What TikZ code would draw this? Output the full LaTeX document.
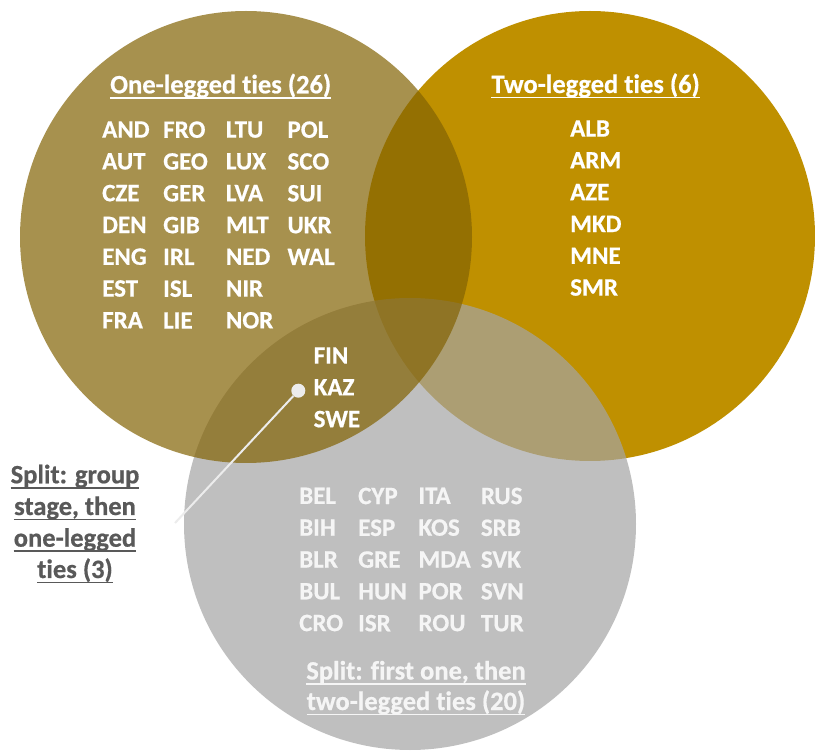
\documentclass[tikz,border=0pt]{standalone}
\usepackage{fontspec}
\setmainfont{Carlito}[Ligatures=NoCommon, BoldFeatures={FakeBold=0.6}]

\definecolor{onelegcol}{RGB}{131,99,4}
\definecolor{twolegcol}{RGB}{191,144,0}
\definecolor{splitcol}{RGB}{165,165,165}
\definecolor{labelgray}{RGB}{89,89,89}
\definecolor{softwhite}{RGB}{245,245,245}
\definecolor{dotcol}{RGB}{236,236,236}

\tikzset{
	venn/.style={circle, inner sep=0pt},
	ties/.style={font=\fontsize{25}{31.8}\selectfont\bfseries, text=white,
		inner sep=0pt, align=left, anchor=north west},
	heading/.style={font=\fontsize{26.5}{30}\selectfont\bfseries, text=white,
		inner sep=0pt, anchor=base},
	uline/.style={draw=white, line width=1.6pt},
}

\begin{document}
\begin{tikzpicture}[x=1pt, y=-1pt]
	\fill[white] (0,0) rectangle (815,751);
	\useasboundingbox (0,0) rectangle (815,751);

	% the three sets
	\node[venn, minimum size=450pt, fill=twolegcol] (twoleg) at (590,236) {};
	\node[venn, minimum size=452pt, fill=splitcol, fill opacity=0.7] (split) at (410,524) {};
	\node[venn, minimum size=452pt, fill=onelegcol, fill opacity=0.7] (oneleg) at (246,237) {};

	% headings
	\node[heading] (onetitle) at (220.7,93.3) {One-legged ties (26)};
	\node[heading] (twotitle) at (595.7,93) {Two-legged ties (6)};
	\draw[uline] ([yshift=-4.5pt]onetitle.base west) -- ([yshift=-4.5pt]onetitle.base east);
	\draw[uline] ([yshift=-4.5pt]twotitle.base west) -- ([yshift=-4.5pt]twotitle.base east);

	% one-legged
	\node[ties] (onecolA) at (102,121.2) {AND\\AUT\\CZE\\DEN\\ENG\\EST\\FRA};
	\node[ties] (onecolB) at (163,121.2) {FRO\\GEO\\GER\\GIB\\IRL\\ISL\\LIE};
	\node[ties] (onecolC) at (225.7,121.2) {LTU\\LUX\\LVA\\MLT\\NED\\NIR\\NOR};
	\node[ties] (onecolD) at (287.3,121.2) {POL\\SCO\\SUI\\UKR\\WAL};

	% two-legged
	\node[ties] (twocol) at (570,120.2) {ALB\\ARM\\AZE\\MKD\\MNE\\SMR};

	% group stage, then one-legged
	\node[ties] (bothcol) at (313.5,347.2) {FIN\\KAZ\\SWE};

	% first one, then two-legged
	\node[ties, text=softwhite] (splitcolA) at (299,487.5) {BEL\\BIH\\BLR\\BUL\\CRO};
	\node[ties, text=softwhite] (splitcolB) at (358,487.5) {CYP\\ESP\\GRE\\HUN\\ISR};
	\node[ties, text=softwhite] (splitcolC) at (418.3,487.5) {ITA\\KOS\\MDA\\POR\\ROU};
	\node[ties, text=softwhite] (splitcolD) at (480.7,487.5) {RUS\\SRB\\SVK\\SVN\\TUR};

	\node[heading, text=softwhite] (splittitleA) at (416,679.5) {Split: first one, then};
	\node[heading, text=softwhite] (splittitleB) at (416,710) {two-legged ties (20)};
	\draw[uline, draw=softwhite] ([yshift=-4.5pt]splittitleA.base west) -- ([yshift=-4.5pt]splittitleA.base east);
	\draw[uline, draw=softwhite] ([yshift=-4.5pt]splittitleB.base west) -- ([yshift=-4.5pt]splittitleB.base east);

	% callout for the three
	\node[heading, text=labelgray] (grpA) at (75,483.3) {Split: group};
	\node[heading, text=labelgray] (grpB) at (75,515) {stage, then};
	\node[heading, text=labelgray] (grpC) at (75,546.7) {one-legged};
	\node[heading, text=labelgray] (grpD) at (75,578) {ties (3)};
	\draw[uline, draw=labelgray] ([yshift=-4.5pt]grpA.base west) -- ([yshift=-4.5pt]grpA.base east);
	\draw[uline, draw=labelgray] ([yshift=-4.5pt]grpB.base west) -- ([yshift=-4.5pt]grpB.base east);
	\draw[uline, draw=labelgray] ([yshift=-4.5pt]grpC.base west) -- ([yshift=-4.5pt]grpC.base east);
	\draw[uline, draw=labelgray] ([yshift=-4.5pt]grpD.base west) -- ([yshift=-4.5pt]grpD.base east);

	\coordinate (grpend) at (175,523);
	\node[venn, minimum size=14pt, fill=dotcol] (kazdot) at (298.3,390.7) {};
	\draw[dotcol, line width=2pt] (kazdot) -- (grpend);
\end{tikzpicture}
\end{document}
